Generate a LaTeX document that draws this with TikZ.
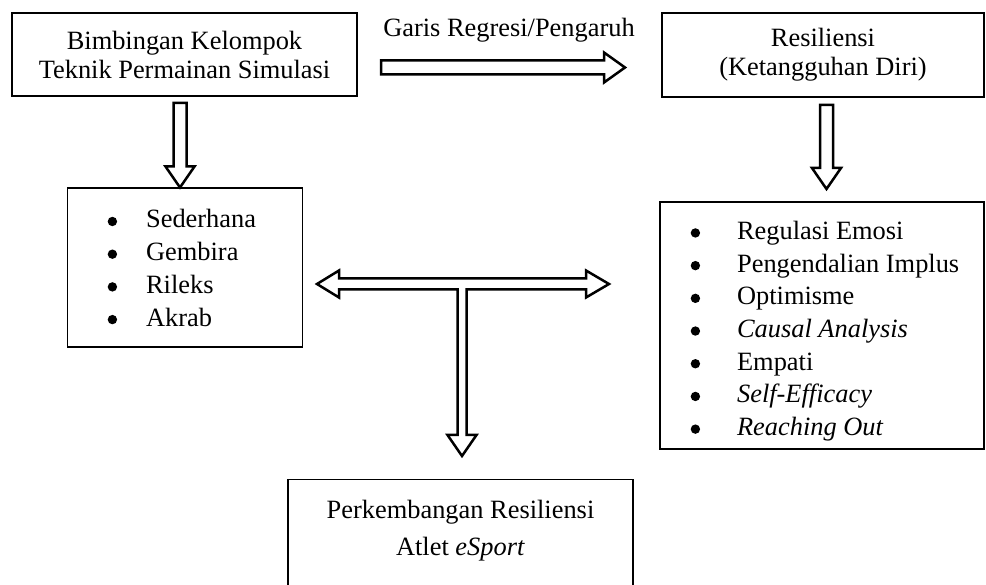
\documentclass[tikz,border=0pt]{standalone}
\usepackage{fontspec}
\setmainfont{Liberation Serif}
\usetikzlibrary{calc}
\newcommand\blockR[2]{\draw[blockarrow] let \p1=(#1), \p2=(#2) in
  (\x1,\y1+7pt) -- (\x2-21pt,\y1+7pt) -- (\x2-21pt,\y1+15pt) -- (\x2,\y1)
  -- (\x2-21pt,\y1-15pt) -- (\x2-21pt,\y1-7pt) -- (\x1,\y1-7pt) -- cycle;}
\newcommand\blockD[2]{\draw[blockarrow] let \p1=(#1), \p2=(#2) in
  (\x1-6.5pt,\y1) -- (\x1+6.5pt,\y1) -- (\x1+6.5pt,\y2+21pt) -- (\x1+14.5pt,\y2+21pt)
  -- (\x1,\y2) -- (\x1-14.5pt,\y2+21pt) -- (\x1-6.5pt,\y2+21pt) -- cycle;}
\newcommand\bigbul{\tikz[baseline={(0pt,-6.5pt)},x=1pt,y=1pt]\fill (0,0) circle (4.7pt);}
\begin{document}
\begin{tikzpicture}[x=1pt,y=-1pt,
  box/.style={draw,line width=1.2pt,inner sep=0pt,align=center,
    font=\fontsize{26.4}{29}\selectfont},
  blockarrow/.style={draw,line width=2.5pt,fill=white,line join=miter},
  lbl/.style={inner sep=0pt,font=\fontsize{26.4}{29}\selectfont},
  lst/.style={inner sep=0pt,anchor=west,font=\fontsize{26.4}{32.7}\selectfont}]
\useasboundingbox (0,0) rectangle (986,585);
% boxes
\node[box,minimum width=345pt,minimum height=83pt] (A) at (184.5,54.5)
  {Bimbingan Kelompok\\Teknik Permainan Simulasi};
\node[box,minimum width=322pt,minimum height=84pt] (B) at (823,55)
  {Resiliensi\\(Ketangguhan Diri)};
\node[box,minimum width=235pt,minimum height=159pt] (C) at (185,267.5) {};
\node[box,minimum width=324pt,minimum height=247pt] (D) at (822,325.5) {};
\node[box,minimum width=345pt,minimum height=125pt,anchor=north] (E) at (460.5,479) {};
% texts
\node[lbl,anchor=base] (lab) at (509,37) {Garis Regresi/Pengaruh};
\node[lst] (Clist) at (107.5,270.5) {\begin{tabular}{@{}l@{\hspace{29pt}}l@{}}
  \bigbul & Sederhana\\
  \bigbul & Gembira\\
  \bigbul & Rileks\\
  \bigbul & Akrab
\end{tabular}};
\node[lst] (Dlist) at (690.5,331) {\begin{tabular}{@{}l@{\hspace{37pt}}l@{}}
  \bigbul & Regulasi Emosi\\
  \bigbul & Pengendalian Implus\\
  \bigbul & Optimisme\\
  \bigbul & \textit{Causal Analysis}\\
  \bigbul & Empati\\
  \bigbul & \textit{Self-Efficacy}\\
  \bigbul & \textit{Reaching Out}
\end{tabular}};
\node[lbl,align=center,font=\fontsize{26.4}{37}\selectfont] (Etext) at (460.5,530.5)
  {Perkembangan Resiliensi\\Atlet \textit{eSport}};
% arrow end points
\coordinate (r0) at (381,67.5);
\coordinate (r1) at (625,67.5);
\coordinate (l0) at (180,103);
\coordinate (l1) at (180,187.5);
\coordinate (d0) at (826.5,105);
\coordinate (d1) at (826.5,189);
\blockR{r0}{r1}
\blockD{l0}{l1}
\blockD{d0}{d1}
% T-shaped arrow between C, D and E
\draw[blockarrow] (317,284) -- (339,270.5) -- (339,278.5) -- (586,278.5) -- (586,270.5)
  -- (609,284) -- (586,297.5) -- (586,289.5) -- (466.5,289.5) -- (466.5,435)
  -- (476.5,435) -- (462,456) -- (447.5,435) -- (457.5,435) -- (457.5,289.5)
  -- (339,289.5) -- (339,297.5) -- cycle;
\end{tikzpicture}
\end{document}
